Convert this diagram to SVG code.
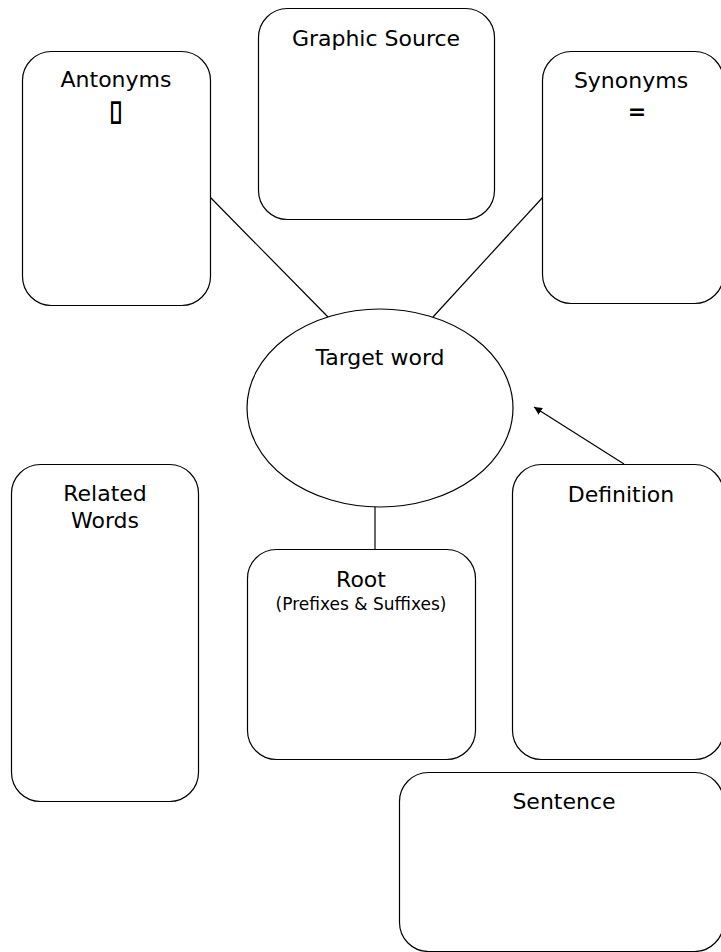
<svg xmlns="http://www.w3.org/2000/svg" width="721" height="952" viewBox="0 0 721 952">
<defs>
<style>
.box{fill:#fff;stroke:#000;stroke-width:1.2}
.conn{fill:none;stroke:#000;stroke-width:1.2}
.t{font-family:"DejaVu Sans","Verdana",sans-serif;font-size:22px;fill:#000;text-anchor:middle}
.s{font-size:17px}
</style>
<marker id="arr" viewBox="0 0 10 10" refX="10" refY="5" markerWidth="8" markerHeight="8" markerUnits="userSpaceOnUse" orient="auto">
<path d="M0,0 L10,5 L0,10 z" fill="#000"/>
</marker>
</defs>
<rect width="721" height="952" fill="#fff"/>
<g id="connectors">
<line class="conn" x1="210" y1="197" x2="328" y2="317"/>
<line class="conn" x1="543" y1="197" x2="433" y2="317"/>
<line class="conn" x1="375" y1="507" x2="375" y2="549"/>
<line class="conn" x1="624" y1="464" x2="534" y2="407" marker-end="url(#arr)" stroke-width="1.6"/>
</g>
<g id="antonyms">
<rect class="box" x="22.5" y="51.5" width="188" height="254" rx="29" ry="29"/>
<text class="t" x="116" y="87">Antonyms</text>
<text class="t" transform="translate(116,119) scale(0.8,1.1)" x="0" y="0" stroke="#000" stroke-width="1.3">&#xF0B9;</text>
</g>
<g id="graphic-source">
<rect class="box" x="258.5" y="8.5" width="236" height="211" rx="29" ry="29"/>
<text class="t" x="376" y="46">Graphic Source</text>
</g>
<g id="synonyms">
<rect class="box" x="542.5" y="51.5" width="181" height="252" rx="29" ry="29"/>
<text class="t" x="631" y="88">Synonyms</text>
<text class="t" x="637" y="119" font-weight="bold">=</text>
</g>
<g id="target-word">
<ellipse class="box" cx="380" cy="408" rx="133" ry="99"/>
<text class="t" x="380" y="365">Target word</text>
</g>
<g id="related-words">
<rect class="box" x="11.5" y="464.5" width="187" height="337" rx="29" ry="29"/>
<text class="t" x="105" y="501">Related</text>
<text class="t" x="105" y="528">Words</text>
</g>
<g id="root">
<rect class="box" x="247.5" y="549.5" width="228" height="210" rx="29" ry="29"/>
<text class="t" x="361" y="587">Root</text>
<text class="t s" x="361" y="610">(Prefixes &amp; Suffixes)</text>
</g>
<g id="definition">
<rect class="box" x="512.5" y="464.5" width="211" height="295" rx="29" ry="29"/>
<text class="t" x="621" y="502">Definition</text>
</g>
<g id="sentence">
<rect class="box" x="399.5" y="772.5" width="324" height="179" rx="29" ry="29"/>
<text class="t" x="564" y="809">Sentence</text>
</g>
</svg>
